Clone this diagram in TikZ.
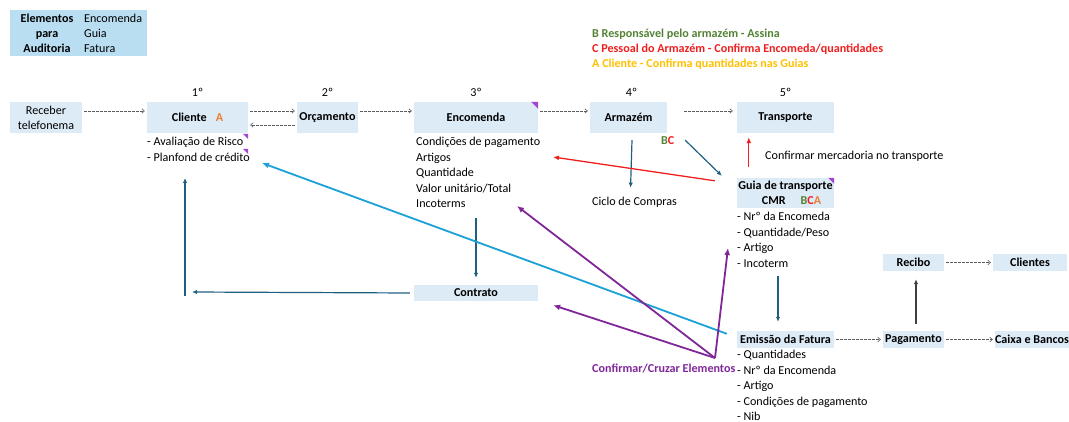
\documentclass[tikz,border=0pt]{standalone}
\usepackage{fontspec}
\setmainfont{Carlito}
\usetikzlibrary{arrows.meta}
\definecolor{boxblue}{RGB}{221,235,247}
\definecolor{auditblue}{RGB}{185,222,242}
\definecolor{tealc}{RGB}{31,96,128}
\definecolor{bluec}{RGB}{27,160,215}
\definecolor{purplec}{RGB}{128,38,153}
\definecolor{redc}{RGB}{240,30,30}
\definecolor{greenc}{RGB}{84,130,53}
\definecolor{yellowc}{RGB}{255,192,0}
\definecolor{orangec}{RGB}{237,125,49}
\definecolor{grayline}{RGB}{90,90,90}
\definecolor{markc}{RGB}{160,70,210}
\newcommand{\fs}{\fontsize{12.1}{15}\selectfont}
\begin{document}
\begin{tikzpicture}[x=1pt,y=-1pt,
  font=\fs,
  box/.style={fill=boxblue, inner sep=0pt, align=center, minimum height=17},
  bbox/.style={box, font=\fs\bfseries},
  lst/.style={anchor=north west, align=left, inner sep=0pt, font=\fontsize{12.1}{15.4}\selectfont},
  txt/.style={inner sep=0pt},
  ord/.style={inner sep=0pt},
  dasharrow/.style={draw=grayline, dash pattern=on 2.4pt off 1.6pt, line width=0.6pt, -{Straight Barb[length=2.5pt,width=4.5pt]}},
  tealarrow/.style={draw=tealc, line width=1.2pt, -{Latex[length=5pt,width=4.5pt]}},
  redarrow/.style={draw=redc, line width=1.3pt, -{Latex[length=6pt,width=5pt]}},
  purplearrow/.style={draw=purplec, line width=1.8pt, -{Latex[length=7pt,width=6pt]}},
  bluearrow/.style={draw=bluec, line width=1.8pt, -{Latex[length=7pt,width=6pt]}},
  grayarrow/.style={draw=black!75, line width=1.1pt, -{Latex[length=5pt,width=4.5pt]}},
  cornermark/.style={fill=markc}
]
\useasboundingbox (0,0) rectangle (1069,422);

% audit box
\node[fill=auditblue, minimum width=137, minimum height=46, inner sep=0] (audit) at (78.5,33) {};
\node[txt, align=center, font=\fs\bfseries] (auditL) at (47,33) {Elementos\\para\\Auditoria};
\node[txt, anchor=west, align=left] (auditR) at (84,33) {Encomenda\\Guia\\Fatura};

% legend
\node[txt, anchor=west, font=\fs\bfseries, text=greenc] (legB) at (592,34) {B Responsável pelo armazém - Assina};
\node[txt, anchor=west, font=\fs\bfseries, text=redc] (legC) at (592,49) {C Pessoal do Armazém - Confirma Encomeda/quantidades};
\node[txt, anchor=west, font=\fs\bfseries, text=yellowc] (legA) at (592,64) {A Cliente - Confirma quantidades nas Guias};

% top row
\node[box, minimum width=72, minimum height=31] (receber) at (46,117.5) {Receber\\telefonema};
\node[bbox, minimum width=101, minimum height=31] (cliente) at (197.5,117.5) {Cliente\hspace{9pt}\textcolor{orangec}{A}};
\node[bbox, minimum width=61, minimum height=31] (orcamento) at (327.5,117.5) {Orçamento};
\node[bbox, minimum width=124, minimum height=31] (encomenda) at (476,117.5) {Encomenda};
\node[bbox, minimum width=77, minimum height=31] (armazem) at (628.5,117.5) {Armazém};
\node[bbox, minimum width=97, minimum height=31] (transporte) at (785.5,117.5) {Transporte};

\node[ord] (o1) at ([yshift=9pt]cliente.north) {1º};
\node[ord] (o2) at ([yshift=9pt]orcamento.north) {2º};
\node[ord] (o3) at ([yshift=9pt]encomenda.north) {3º};
\node[ord] (o4) at ([yshift=9pt,xshift=3pt]armazem.north) {4º};
\node[ord] (o5) at ([yshift=9pt]transporte.north) {5º};

\draw[dasharrow] ([xshift=2pt,yshift=6.5pt]receber.east) -- ([xshift=-2pt,yshift=6.5pt]cliente.west);
\draw[dasharrow] ([xshift=2pt,yshift=6.5pt]cliente.east) -- ([xshift=-2pt,yshift=6.5pt]orcamento.west);
\draw[dasharrow] ([xshift=-2pt,yshift=-7.5pt]orcamento.west) -- ([xshift=2pt,yshift=-7.5pt]cliente.east);
\draw[dasharrow] ([xshift=2pt,yshift=6.5pt]orcamento.east) -- ([xshift=-2pt,yshift=6.5pt]encomenda.west);
\draw[dasharrow] ([xshift=2pt,yshift=6.5pt]encomenda.east) -- ([xshift=-2pt,yshift=6.5pt]armazem.west);
\draw[dasharrow] ([xshift=17pt,yshift=6.5pt]armazem.east) -- ([xshift=-4pt,yshift=6.5pt]transporte.west);

% corner marks
\fill[cornermark] (encomenda.north east) -- ++(-7,0) -- ++(7,7) -- cycle;

% lists
\node[lst] (cliList) at (147,135) {\strut- Avaliação de Risco\\- Planfond de crédito};
\fill[cornermark] (248,134) -- ++(-5,0) -- ++(5,5) -- cycle;
\fill[cornermark] (248,149) -- ++(-5,0) -- ++(5,5) -- cycle;
\node[lst] (encList) at (416,135) {\strut Condições de pagamento\\Artigos\\Quantidade\\Valor unitário/Total\\Incoterms};

\node[txt, anchor=west, font=\fs\bfseries] (bc) at (661,141) {\textcolor{greenc}{B}\textcolor{redc}{C}};
\node[txt, anchor=west] (ciclo) at (592,202) {Ciclo de Compras};
\node[txt, anchor=west] (confMerc) at (765,156) {Confirmar mercadoria no transporte};

% guia
\node[bbox, minimum width=97, minimum height=30] (guia) at (785.5,193) {Guia de transporte\\\hspace{12pt}CMR\hspace{15pt}\textcolor{greenc}{B}\textcolor{redc}{C}\textcolor{orangec}{A}};
\fill[cornermark] (guia.north east) -- ++(-6,0) -- ++(6,6) -- cycle;
\node[lst] (guiaList) at (737,210) {\strut- Nrº da Encomeda\\- Quantidade/Peso\\- Artigo\\- Incoterm};

% bottom right
\node[bbox, minimum width=97] (emissao) at (785.5,339.5) {Emissão da Fatura};
\node[lst] (emiList) at (737,348) {\strut- Quantidades\\- Nrº da Encomenda\\- Artigo\\- Condições de pagamento\\- Nib};
\node[bbox, minimum width=61] (pagamento) at (913.5,339.5) {Pagamento};
\node[bbox, minimum width=74] (caixa) at (1032,339.5) {Caixa e Bancos};
\node[bbox, minimum width=61] (recibo) at (913.5,262.5) {Recibo};
\node[bbox, minimum width=74] (clientes) at (1030,262.5) {Clientes};

\draw[dasharrow] ([xshift=2pt]emissao.east) -- ([xshift=-2pt]pagamento.west);
\draw[dasharrow] ([xshift=2pt]pagamento.east) -- ([xshift=-2pt]caixa.west);
\draw[dasharrow] ([xshift=2pt]recibo.east) -- ([xshift=-2pt]clientes.west);
\draw[grayarrow] ([xshift=2.5pt,yshift=7pt]pagamento.north) -- ([xshift=2.5pt,yshift=-8pt]recibo.south);

% contrato
\node[bbox, minimum width=124, minimum height=16] (contrato) at (476,293) {Contrato};
\coordinate (corner) at (185,293);
\coordinate (upEnd) at (185,178);

\node[txt, anchor=west, font=\fs\bfseries, text=purplec] (conf) at (592,369) {Confirmar/Cruzar Elementos};
\coordinate (cz) at (715,358);

% connectors
\draw[tealarrow] ([xshift=3.5pt,yshift=-7pt]armazem.south) -- ([xshift=-4pt,yshift=9pt]ciclo.north);
\draw[tealarrow] ([xshift=18pt,yshift=-7pt]armazem.south east) -- ([xshift=-15pt,yshift=2pt]guia.north west);
\draw[redarrow] ([xshift=12pt,yshift=11pt]guia.north west) -- ([xshift=12pt,yshift=-4pt]transporte.south west);
\draw[redarrow] ([xshift=-22pt,yshift=-3pt]guia.north west) -- ([shift={(137,22)}]encList.north west);
\draw[tealarrow] ([shift={(0,83)}]encList.north west -| contrato.north) -- ([yshift=7pt]contrato.north);
\draw[tealarrow] ([xshift=-4pt]contrato.west) -- ([xshift=7pt,yshift=1pt]corner);
\draw[tealarrow] ([yshift=-3pt]corner) -- (upEnd);
\draw[tealarrow] ([shift={(41,66)}]guiaList.north west) -- ([xshift=-7.5pt,yshift=9pt]emissao.north);
\draw[bluearrow] ([xshift=-10pt,yshift=-3pt]emissao.north west) -- ([shift={(115,28)}]cliList.north west);
\draw[purplearrow] (cz) -- ([shift={(101,71)}]encList.north west);
\draw[purplearrow] (cz) -- ([shift={(15,4)}]contrato.south east);
\draw[purplearrow] (cz) -- ([shift={(-9,38)}]guiaList.north west);
\end{tikzpicture}
\end{document}
